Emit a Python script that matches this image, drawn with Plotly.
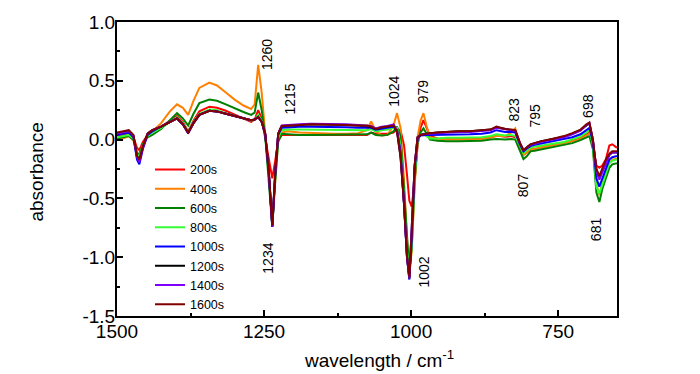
import plotly.graph_objects as go

wavenumber = [1500, 1490, 1480, 1472, 1466, 1462, 1456, 1448, 1440, 1425,
              1410, 1398, 1388, 1379, 1370, 1360, 1343, 1330, 1315, 1300,
              1285, 1272, 1266, 1260, 1254, 1248, 1242, 1236, 1231, 1226,
              1220, 1210, 1190, 1170, 1150, 1130, 1110, 1090, 1075, 1068,
              1060, 1050, 1040, 1030, 1024, 1018, 1012, 1007, 1003, 999,
              994, 989, 984, 979, 974, 968, 955, 940, 920, 900,
              880, 865, 855, 840, 830, 823, 815, 809, 803, 797,
              790, 780, 760, 740, 726, 712, 702, 697, 691, 685,
              680, 675, 669, 663, 658, 650]

s200 = [0.03, 0.04, 0.05, 0.02, -0.07, -0.09, -0.02, 0.04, 0.07, 0.11,
        0.16, 0.20, 0.15, 0.07, 0.16, 0.24, 0.28, 0.27, 0.245, 0.21,
        0.18, 0.15, 0.17, 0.25, 0.18, 0.02, -0.16, -0.33, -0.18, -0.01,
        0.04, 0.04, 0.035, 0.035, 0.035, 0.035, 0.035, 0.035, 0.04, 0.06,
        0.05, 0.05, 0.05, 0.06, 0.09, 0.08, -0.05, -0.30, -0.52, -0.57,
        -0.35, -0.05, 0.10, 0.165, 0.10, 0.03, 0.01, 0.005, 0.005, 0.005,
        0.01, 0.02, 0.035, 0.025, 0.03, 0.02, -0.07, -0.13, -0.11, -0.085,
        -0.08, -0.07, -0.05, -0.03, -0.01, 0.01, 0.04, 0.06, -0.05, -0.22,
        -0.24, -0.22, -0.17, -0.05, -0.04, -0.07]

s400 = [0.00, 0.01, 0.03, -0.01, -0.12, -0.15, -0.05, 0.04, 0.07, 0.14,
        0.24, 0.30, 0.27, 0.21, 0.33, 0.44, 0.485, 0.46, 0.40, 0.34,
        0.29, 0.26, 0.30, 0.635, 0.40, 0.08, -0.30, -0.70, -0.30, 0.00,
        0.06, 0.07, 0.06, 0.055, 0.055, 0.05, 0.05, 0.055, 0.08, 0.155,
        0.07, 0.035, 0.04, 0.12, 0.225, 0.10, -0.35, -0.85, -1.12, -0.95,
        -0.40, 0.02, 0.16, 0.225, 0.12, 0.02, 0.005, 0.00, 0.00, 0.00,
        0.005, 0.015, 0.03, 0.03, 0.06, 0.095, -0.03, -0.13, -0.11, -0.085,
        -0.08, -0.07, -0.055, -0.035, -0.015, 0.005, 0.035, 0.05, -0.05, -0.38,
        -0.47, -0.38, -0.28, -0.20, -0.17, -0.16]

s600 = [0.01, 0.02, 0.03, 0.00, -0.11, -0.13, -0.04, 0.02, 0.04, 0.09,
        0.17, 0.225, 0.18, 0.12, 0.22, 0.31, 0.34, 0.33, 0.30, 0.265,
        0.235, 0.21, 0.23, 0.40, 0.25, 0.03, -0.32, -0.74, -0.35, -0.02,
        0.05, 0.045, 0.04, 0.04, 0.04, 0.04, 0.04, 0.04, 0.045, 0.06,
        0.04, 0.035, 0.04, 0.07, 0.11, 0.03, -0.45, -0.90, -1.12, -0.92,
        -0.35, -0.02, 0.06, 0.095, 0.05, 0.00, -0.01, -0.015, -0.015, -0.015,
        -0.01, 0.00, 0.005, 0.00, 0.005, 0.00, -0.10, -0.165, -0.14, -0.10,
        -0.095, -0.085, -0.065, -0.05, -0.03, -0.005, 0.02, 0.03, -0.08, -0.45,
        -0.53, -0.42, -0.33, -0.24, -0.21, -0.20]

s800 = [0.02, 0.03, 0.04, 0.01, -0.12, -0.15, -0.05, 0.03, 0.06, 0.10,
        0.15, 0.19, 0.14, 0.065, 0.15, 0.22, 0.255, 0.25, 0.225, 0.20,
        0.18, 0.16, 0.17, 0.21, 0.16, 0.03, -0.28, -0.72, -0.32, 0.02,
        0.08, 0.085, 0.085, 0.085, 0.085, 0.085, 0.08, 0.08, 0.08, 0.09,
        0.07, 0.08, 0.085, 0.10, 0.10, -0.05, -0.50, -0.95, -1.15, -0.90,
        -0.30, 0.00, 0.04, 0.05, 0.03, 0.01, 0.01, 0.015, 0.015, 0.015,
        0.02, 0.03, 0.045, 0.035, 0.04, 0.03, -0.06, -0.115, -0.09, -0.07,
        -0.06, -0.05, -0.035, -0.02, 0.00, 0.025, 0.06, 0.08, -0.04, -0.40,
        -0.46, -0.38, -0.28, -0.20, -0.18, -0.17]

s1000 = [0.04, 0.05, 0.06, 0.02, -0.17, -0.21, -0.08, 0.04, 0.07, 0.11,
         0.15, 0.18, 0.13, 0.055, 0.14, 0.21, 0.245, 0.24, 0.22, 0.20,
         0.18, 0.165, 0.17, 0.19, 0.15, 0.04, -0.28, -0.74, -0.30, 0.04,
         0.10, 0.105, 0.11, 0.11, 0.11, 0.11, 0.105, 0.10, 0.10, 0.10,
         0.085, 0.095, 0.10, 0.11, 0.08, -0.10, -0.55, -1.00, -1.19, -0.85,
         -0.25, 0.01, 0.035, 0.04, 0.04, 0.04, 0.04, 0.04, 0.045, 0.045,
         0.05, 0.06, 0.08, 0.065, 0.065, 0.06, -0.04, -0.10, -0.075, -0.055,
         -0.045, -0.035, -0.015, 0.00, 0.02, 0.045, 0.08, 0.10, -0.02, -0.33,
         -0.40, -0.33, -0.24, -0.17, -0.15, -0.14]

s1200 = [0.05, 0.06, 0.07, 0.03, -0.14, -0.18, -0.06, 0.05, 0.08, 0.11,
         0.15, 0.18, 0.13, 0.055, 0.14, 0.21, 0.245, 0.24, 0.22, 0.20,
         0.18, 0.165, 0.17, 0.195, 0.15, 0.05, -0.27, -0.74, -0.28, 0.05,
         0.115, 0.12, 0.125, 0.13, 0.13, 0.13, 0.125, 0.12, 0.115, 0.11,
         0.09, 0.105, 0.11, 0.125, 0.07, -0.15, -0.55, -1.00, -1.18, -0.80,
         -0.22, 0.02, 0.04, 0.045, 0.05, 0.055, 0.06, 0.065, 0.07, 0.07,
         0.075, 0.085, 0.105, 0.09, 0.08, 0.075, -0.03, -0.09, -0.065, -0.04,
         -0.03, -0.015, 0.005, 0.025, 0.05, 0.08, 0.12, 0.14, 0.00, -0.26,
         -0.33, -0.27, -0.19, -0.13, -0.11, -0.11]

s1400 = [0.05, 0.06, 0.07, 0.03, -0.15, -0.19, -0.07, 0.05, 0.08, 0.11,
         0.15, 0.18, 0.13, 0.055, 0.14, 0.21, 0.245, 0.24, 0.22, 0.20,
         0.18, 0.165, 0.17, 0.19, 0.15, 0.05, -0.27, -0.74, -0.28, 0.05,
         0.12, 0.125, 0.13, 0.135, 0.135, 0.13, 0.13, 0.125, 0.12, 0.115,
         0.095, 0.11, 0.115, 0.13, 0.08, -0.12, -0.55, -1.00, -1.18, -0.80,
         -0.22, 0.02, 0.04, 0.045, 0.05, 0.05, 0.055, 0.06, 0.065, 0.065,
         0.07, 0.08, 0.10, 0.085, 0.08, 0.075, -0.03, -0.09, -0.065, -0.045,
         -0.035, -0.02, 0.00, 0.02, 0.045, 0.075, 0.125, 0.14, 0.00, -0.27,
         -0.34, -0.28, -0.20, -0.13, -0.11, -0.11]

s1600 = [0.06, 0.07, 0.08, 0.04, -0.14, -0.17, -0.06, 0.05, 0.08, 0.11,
         0.15, 0.18, 0.13, 0.06, 0.14, 0.21, 0.245, 0.24, 0.22, 0.20,
         0.18, 0.165, 0.17, 0.19, 0.15, 0.05, -0.26, -0.73, -0.28, 0.05,
         0.115, 0.12, 0.125, 0.13, 0.13, 0.13, 0.125, 0.12, 0.12, 0.11,
         0.09, 0.105, 0.11, 0.12, 0.07, -0.14, -0.55, -0.99, -1.17, -0.80,
         -0.22, 0.02, 0.04, 0.045, 0.05, 0.055, 0.06, 0.065, 0.07, 0.07,
         0.075, 0.085, 0.11, 0.09, 0.085, 0.08, -0.03, -0.09, -0.065, -0.04,
         -0.03, -0.015, 0.005, 0.03, 0.055, 0.085, 0.13, 0.145, 0.00, -0.25,
         -0.31, -0.25, -0.17, -0.12, -0.10, -0.10]

series_names = ["200s", "400s", "600s", "800s", "1000s", "1200s", "1400s", "1600s"]
series_values = [s200, s400, s600, s800, s1000, s1200, s1400, s1600]
series_colors = ["#ff0000", "#ff8000", "#008000", "#33ff33", "#0000ff",
                 "#000000", "#8000ff", "#800000"]

peak_labels = ["1260", "1215", "1024", "979", "823", "795", "698",
               "1234", "1002", "807", "681"]
peak_label_x = [1246, 1206.5, 1029.5, 980.3, 824.5, 789, 698.3,
                1243, 978.6, 809.3, 685.6]
peak_label_y = [0.722, 0.346, 0.413, 0.409, 0.258, 0.206, 0.283,
                -1.011, -1.124, -0.385, -0.761]

x_ticks = [1500, 1250, 1000, 750]
y_ticks = [1.0, 0.5, 0.0, -0.5, -1.0, -1.5]

FONT = "Arial, Liberation Sans, sans-serif"

fig = go.Figure()
for name, vals, col in zip(series_names, series_values, series_colors):
    fig.add_trace(go.Scatter(x=wavenumber, y=vals, mode="lines", name=name,
                             line=dict(color=col, width=2)))

for t, xx, yy in zip(peak_labels, peak_label_x, peak_label_y):
    fig.add_annotation(x=xx, y=yy, xref="x", yref="y", text=t, textangle=-90,
                       showarrow=False, font=dict(family=FONT, size=14, color="black"))

fig.add_annotation(x=0.524, y=-0.145, xref="paper", yref="paper",
                   text="wavelength / cm<sup>-1</sup>", showarrow=False,
                   xanchor="center", yanchor="middle",
                   font=dict(family=FONT, size=19, color="black"))
fig.add_annotation(x=-0.16, y=0.488, xref="paper", yref="paper",
                   text="absorbance", textangle=-90, showarrow=False,
                   xanchor="center", yanchor="middle",
                   font=dict(family=FONT, size=19, color="black"))

axis_common = dict(showline=True, linecolor="black", linewidth=2, mirror=True,
                   showgrid=False, zeroline=False, ticks="inside", ticklen=6,
                   tickwidth=1.5, tickcolor="black",
                   tickfont=dict(family=FONT, size=19, color="black"))

fig.update_xaxes(range=[1500, 650], tickvals=x_ticks,
                 ticktext=[str(v) for v in x_ticks], ticklabelstandoff=-3,
                 minor=dict(dtick=125, tick0=1500, ticks="inside", ticklen=3,
                            tickwidth=1.5, tickcolor="black"),
                 **axis_common)
fig.update_yaxes(range=[-1.5, 1.0], tickvals=y_ticks,
                 ticktext=["%.1f" % v for v in y_ticks], ticklabelstandoff=-4,
                 minor=dict(dtick=0.25, tick0=0, ticks="inside", ticklen=3,
                            tickwidth=1.5, tickcolor="black"),
                 **axis_common)

fig.update_layout(
    width=700, height=374,
    margin=dict(l=117, r=83, t=17, b=58),
    paper_bgcolor="white", plot_bgcolor="white",
    showlegend=True,
    legend=dict(x=0.066, y=0.548, xanchor="left", yanchor="top",
                bgcolor="rgba(0,0,0,0)", borderwidth=0,
                font=dict(family=FONT, size=12.5, color="black"),
                traceorder="normal", itemwidth=30),
)

fig.write_html("out.html", config={"displayModeBar": False},
               post_script="document.body.style.margin='0px';document.body.style.overflow='hidden';")
